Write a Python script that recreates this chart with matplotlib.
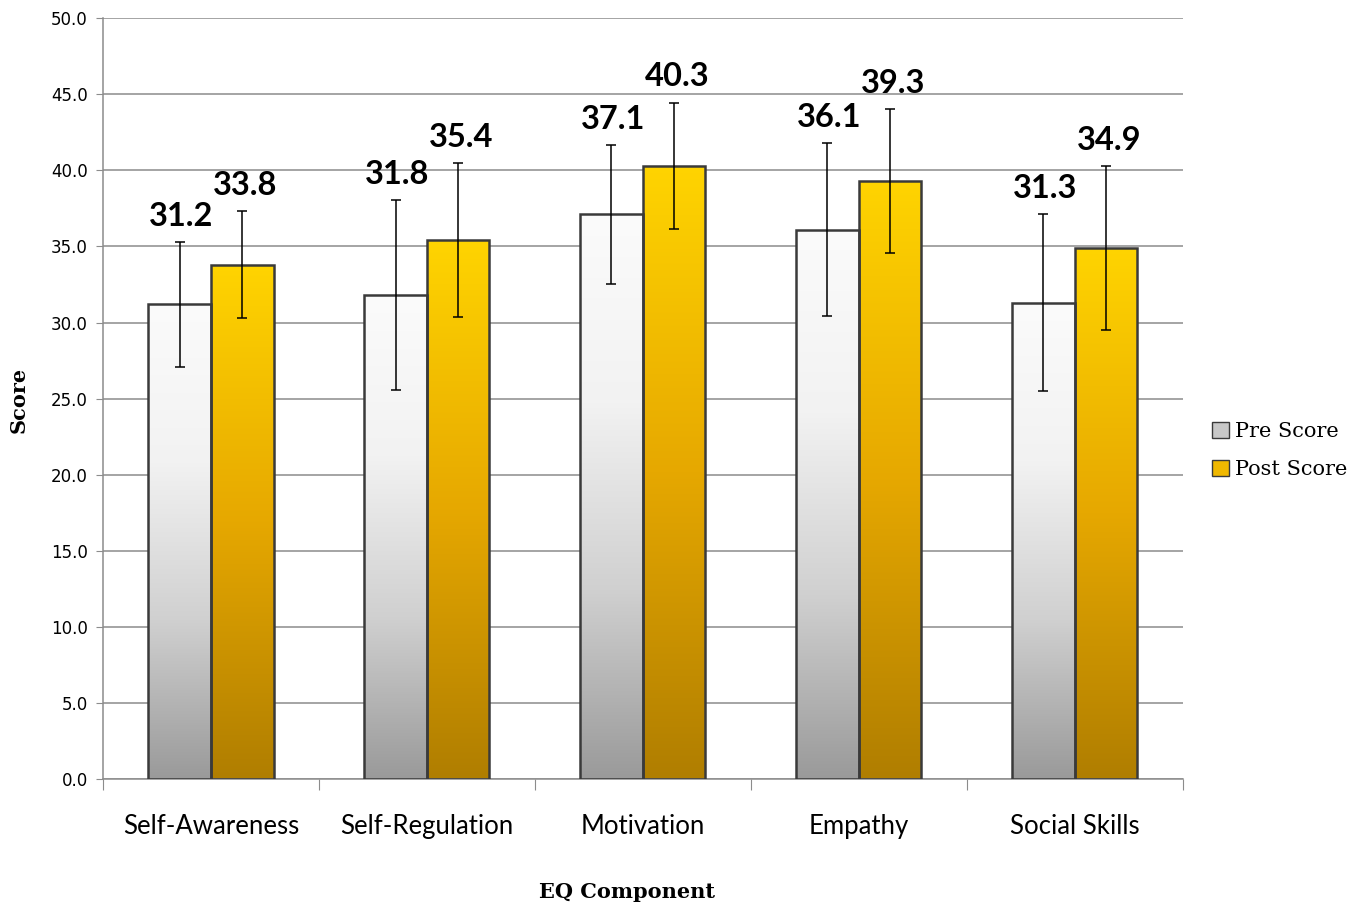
import numpy as np
import matplotlib
matplotlib.use("Agg")
import matplotlib.pyplot as plt
from matplotlib.patches import Patch
from matplotlib.colors import LinearSegmentedColormap

# data
components = ["Self-Awareness", "Self-Regulation", "Motivation", "Empathy", "Social Skills"]
pre_score = [31.2, 31.8, 37.1, 36.1, 31.3]
post_score = [33.8, 35.4, 40.3, 39.3, 34.9]
pre_err = [4.1, 6.25, 4.55, 5.7, 5.8]
post_err = [3.5, 5.05, 4.15, 4.7, 5.4]
y_ticks = [0, 5, 10, 15, 20, 25, 30, 35, 40, 45, 50]

pre_cmap = LinearSegmentedColormap.from_list("pre", ["#9a9a9a", "#d0d0d0", "#f2f2f2", "#fbfbfb"])
post_cmap = LinearSegmentedColormap.from_list("post", ["#b07e00", "#e6a800", "#ffd400"])

fig = plt.figure(figsize=(13.64, 9.05), dpi=100)
ax = fig.add_axes([0.0755, 0.139, 0.7915, 0.841])

x = np.arange(len(components))
w = 0.29

def gradient_bars(xpos, vals, cmap):
    bars = ax.bar(xpos, vals, w, color="none", edgecolor="#3a3a3a", linewidth=1.8, zorder=3)
    grad = np.linspace(0, 1, 256).reshape(-1, 1)
    for b in bars:
        x0, y0 = b.get_x(), b.get_y()
        im = ax.imshow(grad, cmap=cmap, origin="lower", aspect="auto",
                       extent=[x0, x0 + b.get_width(), y0, y0 + b.get_height()], zorder=2)
        im.set_clip_path(b)
    return bars

gradient_bars(x - w / 2, pre_score, pre_cmap)
gradient_bars(x + w / 2, post_score, post_cmap)

ax.errorbar(x - w / 2, pre_score, yerr=pre_err, fmt="none", ecolor="black", elinewidth=1.1, capsize=3.5, capthick=1.1, zorder=4)
ax.errorbar(x + w / 2, post_score, yerr=post_err, fmt="none", ecolor="black", elinewidth=1.1, capsize=3.5, capthick=1.1, zorder=4)

for xi, v, e in zip(x - w / 2, pre_score, pre_err):
    ax.annotate(f"{v:.1f}", (xi, v + e), xytext=(1, 8), textcoords="offset points",
                ha="center", va="bottom", fontsize=23.5, fontweight="bold", family="Lato", zorder=5)
for xi, v, e in zip(x + w / 2, post_score, post_err):
    ax.annotate(f"{v:.1f}", (xi, v + e), xytext=(2, 8), textcoords="offset points",
                ha="center", va="bottom", fontsize=23.5, fontweight="bold", family="Lato", zorder=5)

ax.set_xlim(-0.5, len(components) - 0.5)
ax.set_ylim(0, 50)
ax.set_yticks(y_ticks)
ax.set_yticklabels([f"{t:.1f}" for t in y_ticks], fontsize=12, family="DejaVu Sans")
ax.yaxis.grid(True, color="#8c8c8c", linewidth=1.1, zorder=0)
ax.set_axisbelow(True)

# category labels centered, ticks at group boundaries
ax.set_xticks(np.arange(len(components) + 1) - 0.5)
ax.set_xticklabels([])
ax.set_xticks(x, minor=True)
ax.set_xticklabels(components, minor=True, fontsize=18.5, family="Lato")
ax.tick_params(axis="x", which="major", length=8, color="#8c8c8c", direction="out")
ax.tick_params(axis="x", which="minor", length=0, pad=25)
ax.tick_params(axis="y", length=5, color="#8c8c8c", pad=6)

for s in ["top", "right"]:
    ax.spines[s].set_visible(False)
for s in ["left", "bottom"]:
    ax.spines[s].set_color("#8c8c8c")
    ax.spines[s].set_linewidth(1.1)

fig.text(0.014, 0.558, "Score", rotation=90, ha="center", va="center",
         fontsize=15, fontweight="bold", family="DejaVu Serif")
fig.text(0.46, 0.014, "EQ Component", ha="center", va="center",
         fontsize=15, fontweight="bold", family="DejaVu Serif")

handles = [Patch(facecolor="#c8c8c8", edgecolor="#3a3a3a", label="Pre Score"),
           Patch(facecolor="#f0b800", edgecolor="#3a3a3a", label="Post Score")]
fig.legend(handles=handles, loc="center left", bbox_to_anchor=(0.875, 0.502), frameon=False,
           prop={"family": "DejaVu Serif", "size": 15}, handlelength=0.8, handleheight=0.8,
           handletextpad=0.3, labelspacing=0.9)

fig.savefig("out.png", dpi=100)
